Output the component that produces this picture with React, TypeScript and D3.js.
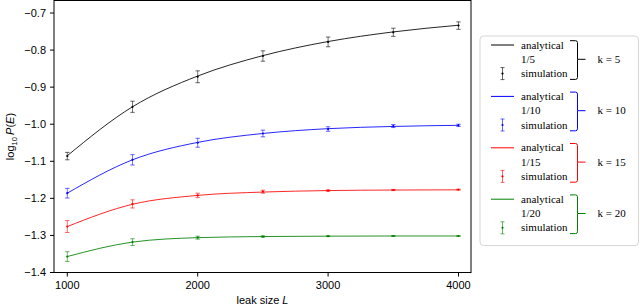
import * as d3 from "d3";

// leak sizes L used for the simulation runs
const leakSizes = [1000, 1500, 2000, 2500, 3000, 3500, 4000];

// log10 P(E), simulation means and half error bars
const simK5 = [-1.086, -0.953, -0.872, -0.816, -0.778, -0.752, -0.734];
const errK5 = [0.01, 0.015, 0.016, 0.014, 0.013, 0.011, 0.01];
const simK10 = [-1.186, -1.096, -1.05, -1.025, -1.013, -1.005, -1.003];
const errK10 = [0.013, 0.014, 0.012, 0.009, 0.006, 0.004, 0.003];
const simK15 = [-1.276, -1.215, -1.192, -1.182, -1.179, -1.1775, -1.1765];
const errK15 = [0.016, 0.011, 0.006, 0.004, 0.002, 0.0015, 0.001];
const simK20 = [-1.357, -1.318, -1.306, -1.303, -1.302, -1.3015, -1.3015];
const errK20 = [0.013, 0.009, 0.004, 0.002, 0.001, 0.001, 0.001];

// analytical curves
const anaK5 = [-1.085, -0.953, -0.87, -0.815, -0.777, -0.751, -0.733];
const anaK10 = [-1.186, -1.096, -1.049, -1.025, -1.012, -1.006, -1.003];
const anaK15 = [-1.276, -1.216, -1.192, -1.183, -1.179, -1.1775, -1.177];
const anaK20 = [-1.357, -1.318, -1.306, -1.303, -1.302, -1.3015, -1.3015];

const kValues = [5, 10, 15, 20];
const fractions = ["1/5", "1/10", "1/15", "1/20"];
const colors = ["#000000", "#0000ff", "#ff0000", "#008000"];

const xTicks = [1000, 2000, 3000, 4000];
const yTicks = [-0.7, -0.8, -0.9, -1.0, -1.1, -1.2, -1.3, -1.4];

const series = [
  { sim: simK5, err: errK5, ana: anaK5 },
  { sim: simK10, err: errK10, ana: anaK10 },
  { sim: simK15, err: errK15, ana: anaK15 },
  { sim: simK20, err: errK20, ana: anaK20 },
];

const W = 640;
const H = 307;
const frame = { left: 54, right: 471, top: 0.5, bottom: 272.5 };

const sans = "'Liberation Sans', Arial, sans-serif";
const serif = "'Liberation Serif', 'Times New Roman', serif";

export default function App() {
  const x = d3.scaleLinear().domain([1000, 4000]).range([67.3, 458.5]);
  const y = d3.scaleLinear().domain([-1.4, -0.7]).range([272.5, 13]);

  const line = d3
    .line<number>()
    .x((_, i) => x(leakSizes[i]))
    .y((d) => y(d))
    .curve(d3.curveMonotoneX);

  const fmt = (v: number) => (v < 0 ? "\u2212" : "") + Math.abs(v).toFixed(1);

  const legendX = 480;
  const legendY = 36;
  const groupStep = 51.4;
  const rowStep = 14.3;

  return (
    <svg
      width={W}
      height={H}
      style={{ position: "absolute", left: 0, top: 0, background: "#fff" }}
    >
      {/* curves and error bars */}
      {series.map((s, si) => (
        <g key={si}>
          <path d={line(s.ana) || ""} fill="none" stroke={colors[si]} strokeWidth={1} strokeOpacity={0.85} />
          {s.sim.map((v, i) => {
            const cx = x(leakSizes[i]);
            const y0 = y(v - s.err[i]);
            const y1 = y(v + s.err[i]);
            return (
              <g key={i} stroke={colors[si]}>
                <line x1={cx} x2={cx} y1={y0} y2={y1} strokeOpacity={0.55} />
                <line x1={cx - 2.2} x2={cx + 2.2} y1={y0} y2={y0} strokeOpacity={0.6} />
                <line x1={cx - 2.2} x2={cx + 2.2} y1={y1} y2={y1} strokeOpacity={0.6} />
                <circle cx={cx} cy={y(v)} r={1.1} fill={colors[si]} stroke="none" />
              </g>
            );
          })}
        </g>
      ))}

      {/* frame */}
      <rect
        x={frame.left}
        y={frame.top}
        width={frame.right - frame.left}
        height={frame.bottom - frame.top}
        fill="none"
        stroke="#000"
        strokeWidth={1}
      />

      {/* y axis */}
      {yTicks.map((t) => (
        <g key={t}>
          <line x1={frame.left - 4} x2={frame.left} y1={y(t)} y2={y(t)} stroke="#000" />
          <text
            x={frame.left - 8}
            y={y(t)}
            dy="0.35em"
            textAnchor="end"
            fontFamily={sans}
            fontSize={11}
          >
            {fmt(t)}
          </text>
        </g>
      ))}
      <text
        transform={`translate(14,${(frame.top + frame.bottom) / 2}) rotate(-90)`}
        textAnchor="middle"
        fontFamily={sans}
        fontSize={11}
      >
        log
        <tspan fontSize={7.5} dy={3}>10</tspan>
        <tspan dy={-3}>{"\u2009"}</tspan>
        <tspan fontStyle="italic">P</tspan>(<tspan fontStyle="italic">E</tspan>)
      </text>

      {/* x axis */}
      {xTicks.map((t) => (
        <g key={t}>
          <line x1={x(t)} x2={x(t)} y1={frame.bottom} y2={frame.bottom + 4} stroke="#000" />
          <text x={x(t)} y={frame.bottom + 16.5} textAnchor="middle" fontFamily={sans} fontSize={11}>
            {t}
          </text>
        </g>
      ))}
      <text
        x={(frame.left + frame.right) / 2}
        y={304}
        textAnchor="middle"
        fontFamily={sans}
        fontSize={11}
      >
        leak size <tspan fontStyle="italic">L</tspan>
      </text>

      {/* legend */}
      <rect
        x={legendX}
        y={legendY}
        width={158.5}
        height={209.5}
        rx={3.5}
        fill="#fff"
        stroke="#d6d6d6"
        strokeWidth={1}
      />
      {kValues.map((k, gi) => {
        const gy = 45 + gi * groupStep;
        const c = colors[gi];
        const top = gy - 4.3;
        const mid = gy + rowStep;
        const bot = gy + 2 * rowStep + 5.8;
        const bx = 577.5;
        return (
          <g key={k}>
            <line x1={491} x2={514} y1={gy} y2={gy} stroke={c} strokeWidth={1} />
            <text x={521} y={gy} dy="0.32em" fontFamily={serif} fontSize={11}>
              analytical
            </text>
            <text x={521} y={mid} dy="0.32em" fontFamily={serif} fontSize={11}>
              {fractions[gi]}
            </text>
            <g stroke={c}>
              <line x1={502.5} x2={502.5} y1={gy + 2 * rowStep - 6} y2={gy + 2 * rowStep + 6} strokeOpacity={0.6} />
              <line x1={500.5} x2={504.5} y1={gy + 2 * rowStep - 6} y2={gy + 2 * rowStep - 6} strokeOpacity={0.6} />
              <line x1={500.5} x2={504.5} y1={gy + 2 * rowStep + 6} y2={gy + 2 * rowStep + 6} strokeOpacity={0.6} />
              <circle cx={502.5} cy={gy + 2 * rowStep} r={1.1} fill={c} stroke="none" />
            </g>
            <text x={521} y={gy + 2 * rowStep} dy="0.32em" fontFamily={serif} fontSize={11}>
              simulation
            </text>
            <path
              d={`M570,${top} L${bx - 2},${top} Q${bx},${top} ${bx},${top + 2} L${bx},${mid} L${bx + 8},${mid} M${bx},${mid} L${bx},${bot - 2} Q${bx},${bot} ${bx - 2},${bot} L570,${bot}`}
              fill="none"
              stroke={c}
              strokeWidth={1}
            />
            <text x={597.5} y={mid} dy="0.32em" fontFamily={serif} fontSize={11}>
              k = {k}
            </text>
          </g>
        );
      })}
    </svg>
  );
}
